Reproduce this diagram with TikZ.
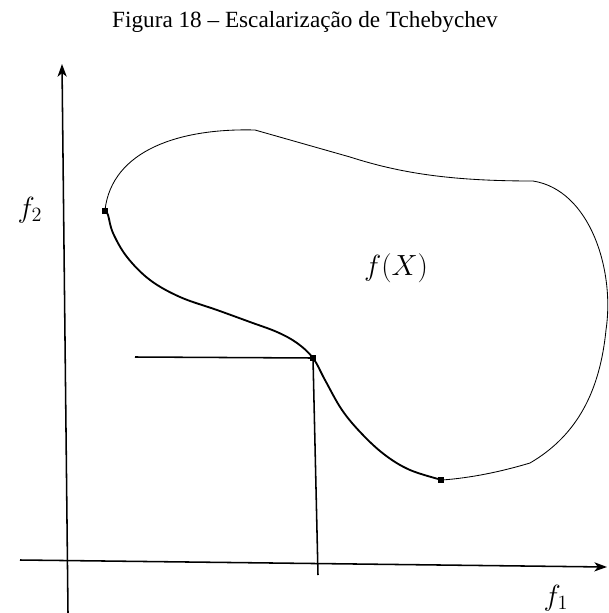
\documentclass[tikz,border=0pt]{standalone}
\usepackage{fontspec}
\setmainfont{Liberation Serif}
\usetikzlibrary{arrows.meta}

\begin{document}
\begin{tikzpicture}[x=0.025cm,y=-0.025cm,>={Stealth[length=9pt,width=6.5pt,inset=2.5pt]},
  axis/.style={line width=1.1pt},
  border/.style={line width=0.6pt},
  front/.style={line width=1.3pt,line join=round},
  guide/.style={line width=1.1pt},
  sol/.style={fill,rectangle,inner sep=0pt,minimum size=4pt},
  lbl/.style={font=\fontsize{22}{26}\selectfont}]
\useasboundingbox (0,0) rectangle (608,613);
\node[font=\fontsize{16.5}{20}\selectfont] (title) at (305,22) {Figura 18 -- Escalarização de Tchebychev};

% axes
\coordinate (xs) at (20,560);
\coordinate (xe) at (607,567);
\coordinate (ys) at (68,613);
\coordinate (ye) at (62,64);
\draw[axis,->] (xs) -- (xe);
\draw[axis,->] (ys) -- (ye);
\node[lbl] (f1) at (556,598) {$f_1$};
\node[lbl] (f2) at (30,210) {$f_2$};

% image of the feasible set
\coordinate (top) at (255,130);
\coordinate (rt) at (533,181);
\draw[border] (105,210) .. controls (112,150) and (180,128) .. (top)
  -- (350,157) .. controls (400,173) and (450,181) .. (rt)
  .. controls (590,190) and (615,270) .. (606,330)
  .. controls (600,390) and (578,435) .. (530,463)
  .. controls (500,472) and (470,478) .. (442,480);
\node[lbl] (img) at (396,268) {$f(X)$};

% pareto front
\draw[front] plot[smooth,tension=0.6] coordinates {(105,210) (108,215) (113,233) (127,257) (150,280) (180,297) (217,310) (250,322) (277,332) (297,343) (313,358) (325,380) (342,410) (362,434) (385,455) (410,470) (442,480)};
\node[sol] (a) at (105,211) {};
\node[sol] (k) at (313,358) {};
\node[sol] (b) at (441,480) {};

% level lines
\coordinate (hl) at (135,357);
\coordinate (vl) at (318,575);
\draw[guide] (hl) -- (k.center) -- (vl);
\end{tikzpicture}
\end{document}
